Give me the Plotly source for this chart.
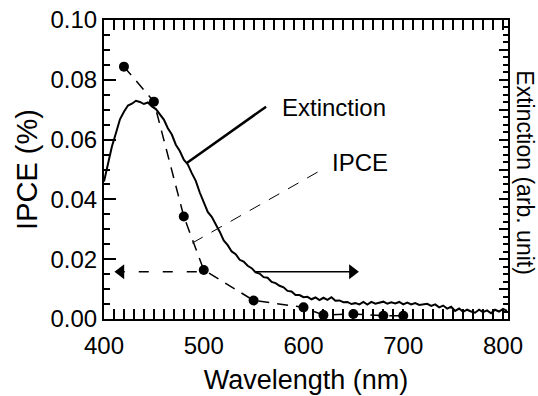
import plotly.graph_objects as go

# ---------------- data ----------------
ipce_wl = [420, 450, 480, 500, 550, 600, 620, 650, 680, 700]
ipce_val = [0.0844, 0.0727, 0.0343, 0.0164, 0.0062, 0.0039, 0.0013, 0.0017, 0.0011, 0.0011]

ext_wl = list(range(400, 808, 4))
ext_val = [0.460, 0.520, 0.578, 0.622, 0.668, 0.693, 0.714, 0.720, 0.730, 0.726,
           0.719, 0.724, 0.711, 0.702, 0.684, 0.667, 0.638, 0.617, 0.583, 0.562,
           0.533, 0.517, 0.488, 0.462, 0.423, 0.392, 0.358, 0.342, 0.318, 0.292,
           0.263, 0.247, 0.226, 0.217, 0.198, 0.192, 0.178, 0.170, 0.156, 0.152,
           0.140, 0.138, 0.124, 0.120, 0.111, 0.106, 0.094, 0.092, 0.080, 0.080,
           0.073, 0.074, 0.066, 0.072, 0.063, 0.071, 0.064, 0.073, 0.061, 0.062,
           0.056, 0.057, 0.050, 0.053, 0.049, 0.057, 0.048, 0.057, 0.051, 0.055,
           0.058, 0.051, 0.056, 0.052, 0.057, 0.049, 0.055, 0.049, 0.053, 0.047,
           0.048, 0.051, 0.044, 0.049, 0.039, 0.045, 0.035, 0.041, 0.027, 0.035,
           0.024, 0.031, 0.025, 0.021, 0.031, 0.023, 0.029, 0.019, 0.031, 0.025,
           0.034, 0.027]

x_tickvals = [400, 450, 500, 550, 600, 650, 700, 750, 800]
x_ticktext = ["400", "", "500", "", "600", "", "700", "", "800"]

# annotation geometry (data coordinates)
arrow_y = 0.0158
dash_arrow_x = [493, 409.5]      # start, tip
solid_arrow_x = [551, 656.5]     # start, tip
head_size = 13
head_off = 7.5                   # centre of triangle marker from its tip (x units ~ px)
ext_ptr_x, ext_ptr_y = [483, 562.5], [0.0522, 0.0710]
ipce_ptr_x, ipce_ptr_y = [488.5, 614.5], [0.0254, 0.0492]

FONT = "Liberation Sans, Arial, sans-serif"
BLACK = "black"

fig = go.Figure()

fig.add_trace(go.Scatter(
    x=ipce_wl, y=ipce_val, mode="lines+markers",
    line=dict(color=BLACK, width=1.5, dash="11px,8px"),
    marker=dict(color=BLACK, size=10), hoverinfo="skip"))

fig.add_trace(go.Scatter(
    x=ext_wl, y=ext_val, mode="lines", yaxis="y2",
    line=dict(color=BLACK, width=2), hoverinfo="skip"))

# dashed arrow to the left (IPCE -> left axis)
fig.add_trace(go.Scatter(x=[dash_arrow_x[0], dash_arrow_x[1] + head_off], y=[arrow_y, arrow_y],
                         mode="lines", line=dict(color=BLACK, width=1.5, dash="10px,14px"), hoverinfo="skip"))
fig.add_trace(go.Scatter(x=[dash_arrow_x[1] + head_off], y=[arrow_y], mode="markers",
                         marker=dict(symbol="triangle-left", size=head_size, color=BLACK), hoverinfo="skip"))
# solid arrow to the right (extinction -> right axis)
fig.add_trace(go.Scatter(x=[solid_arrow_x[0], solid_arrow_x[1] - head_off], y=[arrow_y, arrow_y],
                         mode="lines", line=dict(color=BLACK, width=1.5), hoverinfo="skip"))
fig.add_trace(go.Scatter(x=[solid_arrow_x[1] - head_off], y=[arrow_y], mode="markers",
                         marker=dict(symbol="triangle-right", size=head_size, color=BLACK), hoverinfo="skip"))

# pointer lines for the labels
fig.add_trace(go.Scatter(x=ext_ptr_x, y=ext_ptr_y, mode="lines",
                         line=dict(color=BLACK, width=2.5), hoverinfo="skip"))
fig.add_trace(go.Scatter(x=ipce_ptr_x, y=ipce_ptr_y, mode="lines",
                         line=dict(color=BLACK, width=1, dash="12px,10px"), hoverinfo="skip"))

fig.add_annotation(x=576.5, y=0.0709, text="Extinction", showarrow=False, xanchor="left",
                   yanchor="middle", font=dict(size=24, color=BLACK, family=FONT))
fig.add_annotation(x=626.5, y=0.0522, text="IPCE", showarrow=False, xanchor="left",
                   yanchor="middle", font=dict(size=24, color=BLACK, family=FONT))
fig.add_annotation(x=1.04, y=0.49, xref="paper", yref="paper", text="Extinction (arb. unit)",
                   textangle=90, showarrow=False, xanchor="center", yanchor="middle",
                   font=dict(size=23, color=BLACK, family=FONT))

fig.update_layout(
    width=538, height=396,
    margin=dict(l=104, r=30, t=20, b=77),
    paper_bgcolor="white", plot_bgcolor="white", showlegend=False,
    xaxis=dict(range=[400, 805], tickmode="array", tickvals=x_tickvals, ticktext=x_ticktext,
               ticks="inside", ticklen=10, tickwidth=2, tickcolor=BLACK,
               minor=dict(dtick=10, ticks="inside", ticklen=6, tickcolor=BLACK),
               showline=True, linewidth=2, linecolor=BLACK, mirror="allticks",
               showgrid=False, zeroline=False, automargin=False,
               tickfont=dict(size=24, color=BLACK, family=FONT), ticklabelstandoff=4,
               title=dict(text="Wavelength (nm)", font=dict(size=27, color=BLACK, family=FONT), standoff=12)),
    yaxis=dict(range=[0, 0.1], dtick=0.02, tickformat=".2f",
               ticks="inside", ticklen=12, tickwidth=2, tickcolor=BLACK,
               minor=dict(dtick=0.005, ticks="inside", ticklen=6, tickcolor=BLACK),
               showline=True, linewidth=2, linecolor=BLACK, automargin=False,
               showgrid=False, zeroline=False,
               tickfont=dict(size=24, color=BLACK, family=FONT),
               title=dict(text="IPCE (%)", font=dict(size=29, color=BLACK, family=FONT), standoff=4)),
    yaxis2=dict(range=[0, 1.0], overlaying="y", side="right", showticklabels=False,
                dtick=0.1, ticks="inside", ticklen=9, tickwidth=2, tickcolor=BLACK,
                minor=dict(dtick=0.025, ticks="inside", ticklen=5, tickcolor=BLACK),
                showline=True, linewidth=2, linecolor=BLACK, automargin=False,
                showgrid=False, zeroline=False),
)

fig.write_html("out.html")
